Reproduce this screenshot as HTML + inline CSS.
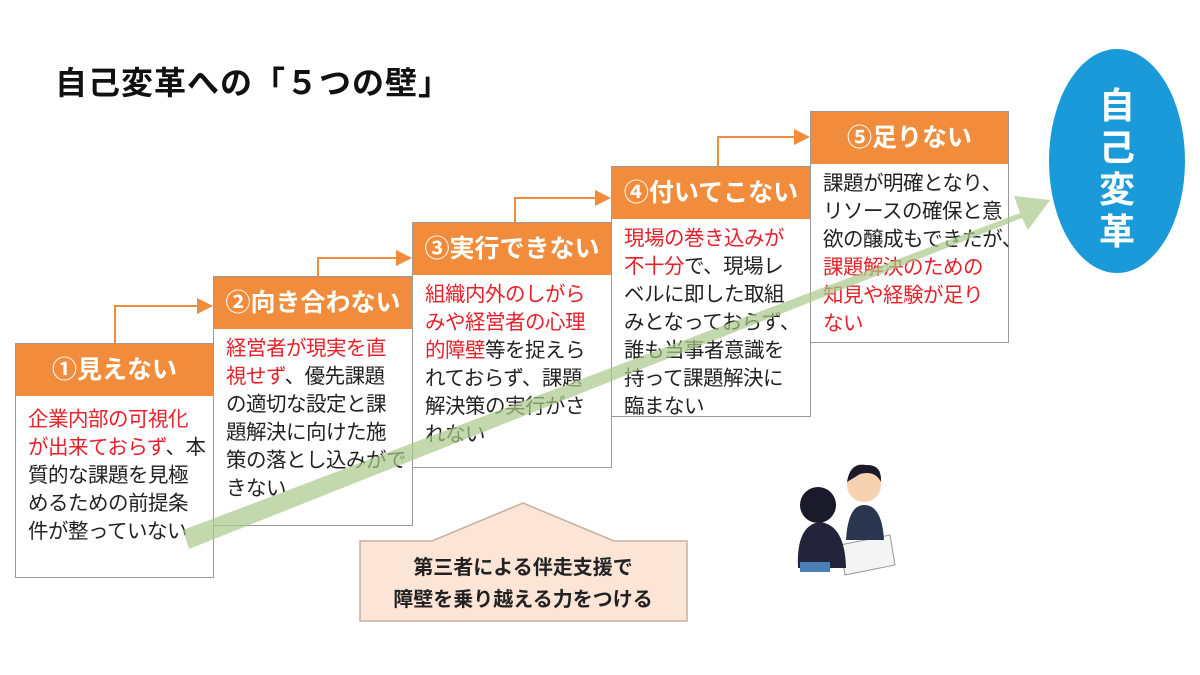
<!DOCTYPE html>
<html><head><meta charset="utf-8"><style>
body{margin:0;width:1200px;height:675px;background:#fff;position:relative;overflow:hidden;font-family:"Liberation Sans","Noto Sans CJK JP",sans-serif;}
.t{position:absolute;left:55px;top:58px;font-size:32px;font-weight:bold;color:#111;letter-spacing:1px}
.box{position:absolute;background:#fff;border:1.5px solid #9a9a9a;box-sizing:border-box}
.hd{height:52px;background:#f08c3c;color:#fff;font-weight:bold;font-size:25px;text-align:center;line-height:52px;white-space:nowrap}
.bd{padding:6px 0 0 12px;font-size:20.5px;line-height:28px;color:#222;white-space:nowrap;letter-spacing:-0.5px}
.r{color:#e8202a}
.ov{position:absolute;left:0;top:0}
</style></head><body>
<div class="t">自己変革への「５つの壁」</div>
<div class="box" style="left:15px;top:343px;width:199px;height:235px"><div class="hd">①見えない</div><div class="bd" style="padding-top:10px"><span class="r">企業内部の可視化<br>が出来ておらず</span>、本<br>質的な課題を見極<br>めるための前提条<br>件が整っていない</div></div>
<div class="box" style="left:213px;top:276px;width:200px;height:250px"><div class="hd">②向き合わない</div><div class="bd"><span class="r">経営者が現実を直<br>視せず</span>、優先課題<br>の適切な設定と課<br>題解決に向けた施<br>策の落とし込みがで<br>きない</div></div>
<div class="box" style="left:412px;top:222px;width:200px;height:246px"><div class="hd">③実行できない</div><div class="bd"><span class="r">組織内外のしがら<br>みや経営者の心理<br>的障壁</span>等を捉えら<br>れておらず、課題<br>解決策の実行がさ<br>れない</div></div>
<div class="box" style="left:611px;top:166px;width:200px;height:251px"><div class="hd">④付いてこない</div><div class="bd"><span class="r">現場の巻き込みが<br>不十分</span>で、現場レ<br>ベルに即した取組<br>みとなっておらず、<br>誰も当事者意識を<br>持って課題解決に<br>臨まない</div></div>
<div class="box" style="left:810px;top:111px;width:199px;height:232px"><div class="hd">⑤足りない</div><div class="bd">課題が明確となり、<br>リソースの確保と意<br>欲の醸成もできたが、<br><span class="r">課題解決のための<br>知見や経験が足り<br>ない</span></div></div>
<svg class="ov" width="1200" height="675">
<defs><marker id="a" markerWidth="8" markerHeight="8" refX="7" refY="4" orient="auto"><path d="M0,0L8,4L0,8z" fill="#f08c3c"/></marker></defs>
<g stroke="#f08c3c" stroke-width="2" fill="none" marker-end="url(#a)">
<path d="M115,343V306H211"/><path d="M318,276V258H410"/><path d="M515,222V198H609"/><path d="M718,166V137H808"/></g>
<polygon points="183,530 1020,213 1014,196 1050,200 1028,230 1022,218 189,549" fill="#a9c98a" opacity="0.7"/>
<ellipse cx="1117" cy="161" rx="68" ry="112" fill="#1a9ad8"/>
<g font-size="36" font-weight="bold" fill="#fff" text-anchor="middle" font-family="Liberation Sans,Noto Sans CJK JP,sans-serif">
<text x="1117" y="118">自</text><text x="1117" y="160">己</text><text x="1117" y="202">変</text><text x="1117" y="244">革</text></g>
<path d="M360,541H432L523,503L614,541H687V621H360Z" fill="#fce4d6" stroke="#c8b0a0" stroke-width="1.5"/>
<text x="523" y="574" font-size="20" font-weight="bold" fill="#222" text-anchor="middle" font-family="Liberation Sans,Noto Sans CJK JP,sans-serif">第三者による伴走支援で</text>
<text x="523" y="606" font-size="20" font-weight="bold" fill="#222" text-anchor="middle" font-family="Liberation Sans,Noto Sans CJK JP,sans-serif">障壁を乗り越える力をつける</text>
<path d="M840,545L890,535L895,565L845,575Z" fill="#f4f4f4" stroke="#999"/>
<circle cx="864" cy="485" r="17" fill="#f6d2b0"/><path d="M847,482Q850,462 866,465Q882,464 881,482Q875,470 860,474Z" fill="#1a1a2a"/>
<path d="M846,540Q848,505 864,505Q882,505 884,540Z" fill="#2a3550"/>
<circle cx="818" cy="505" r="18" fill="#1a1a2a"/>
<path d="M798,568Q796,525 820,522Q845,525 846,568Z" fill="#23233a"/>
<rect x="800" y="562" width="30" height="10" fill="#4a7fb8"/>
</svg>
</body></html>
